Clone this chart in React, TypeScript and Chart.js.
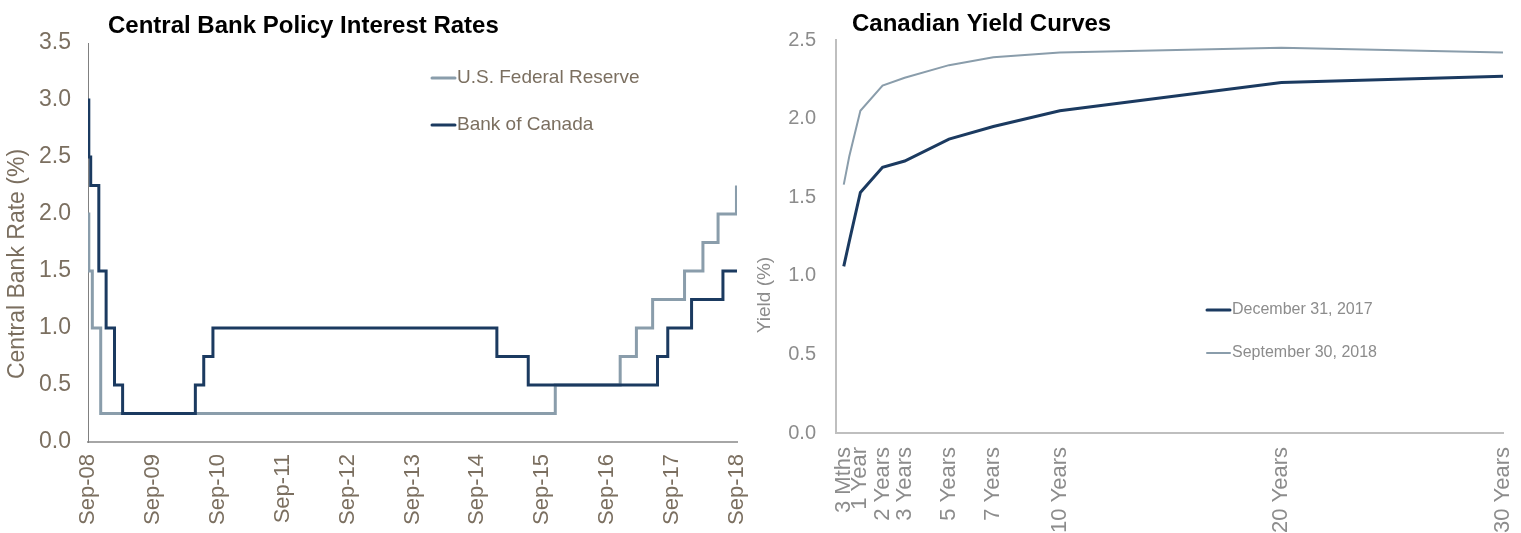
import React, { useEffect, useRef } from "react";
import { Chart, registerables } from "chart.js";

Chart.register(...registerables);

const SANS = "'Liberation Sans', Arial, Helvetica, sans-serif";
Chart.defaults.font.family = SANS;

const NAVY = "#1b3a60";
const SLATE = "#8a9dab";
const LEFT_TEXT = "#7b6f60";
const RIGHT_TEXT = "#8c8c8c";

// ---------- Left chart: Central Bank Policy Interest Rates ----------
const rateAxisMonths = [0, 12, 24, 36, 48, 60, 72, 84, 96, 108, 120];
const rateAxisLabels = ["Sep-08", "Sep-09", "Sep-10", "Sep-11", "Sep-12", "Sep-13", "Sep-14", "Sep-15", "Sep-16", "Sep-17", "Sep-18"];
const rateTicks = [0, 0.5, 1, 1.5, 2, 2.5, 3, 3.5];

// months after Sep-08 at which each rate took effect
const fedMonths = [0, 0.15, 0.8, 2.35, 86.4, 98.4, 101.4, 104.4, 110.3, 113.7, 116.5, 119.9];
const fedRates = [2.0, 1.5, 1.0, 0.25, 0.5, 0.75, 1.0, 1.25, 1.5, 1.75, 2.0, 2.25];
const bocMonths = [0, 0.15, 0.5, 2.0, 3.35, 4.9, 6.4, 19.85, 21.4, 23.1, 75.6, 81.4, 105.3, 107.2, 111.6, 117.4, 120];
const bocRates = [3.0, 2.5, 2.25, 1.5, 1.0, 0.5, 0.25, 0.5, 0.75, 1.0, 0.75, 0.5, 0.75, 1.0, 1.25, 1.5, 1.5];

// ---------- Right chart: Canadian Yield Curves ----------
const tenorYears = [0.25, 0.5, 1, 2, 3, 5, 7, 10, 20, 30];
const dec2017 = [1.06, 1.22, 1.53, 1.69, 1.73, 1.87, 1.95, 2.05, 2.23, 2.27];
const sep2018 = [1.58, 1.76, 2.05, 2.21, 2.26, 2.34, 2.39, 2.42, 2.45, 2.42];
const tenorTickValues = [0.25, 1, 2, 3, 5, 7, 10, 20, 30];
const tenorTickLabels = ["3 Mths", "1 Year", "2 Years", "3 Years", "5 Years", "7 Years", "10 Years", "20 Years", "30 Years"];
const yieldTicks = [0, 0.5, 1, 1.5, 2, 2.5];

const overlayPlugin = {
  id: "overlay",
  afterDraw(chart: any, _args: any, opts: any) {
    const ctx = chart.ctx as CanvasRenderingContext2D;
    (opts.texts || []).forEach((t: any) => {
      ctx.save();
      ctx.translate(t.x, t.y);
      if (t.rotate) ctx.rotate(t.rotate);
      ctx.font = t.font;
      ctx.fillStyle = t.color;
      ctx.textAlign = t.align || "left";
      ctx.textBaseline = "middle";
      ctx.fillText(t.text, 0, 0);
      ctx.restore();
    });
    (opts.legend || []).forEach((l: any) => {
      const ds = chart.data.datasets[l.dataset];
      ctx.save();
      ctx.strokeStyle = ds.borderColor;
      ctx.lineWidth = ds.borderWidth;
      ctx.lineCap = "round";
      ctx.beginPath();
      ctx.moveTo(l.x, l.y);
      ctx.lineTo(l.x + l.lineLength, l.y);
      ctx.stroke();
      ctx.font = l.font;
      ctx.fillStyle = l.color;
      ctx.textAlign = "left";
      ctx.textBaseline = "middle";
      ctx.fillText(ds.label, l.x + l.lineLength + 2, l.y);
      ctx.restore();
    });
  },
};

const noScalePadding = (s: any) => {
  s.paddingLeft = 0;
  s.paddingRight = 0;
  s.paddingTop = 0;
  s.paddingBottom = 0;
};

function buildLeft(canvas: HTMLCanvasElement) {
  return new Chart(canvas, {
    type: "line",
    data: {
      datasets: [
        {
          label: "U.S. Federal Reserve",
          data: fedMonths.map((m, i) => ({ x: m, y: fedRates[i] })),
          borderColor: SLATE,
          borderWidth: 3,
          stepped: true,
          pointRadius: 0,
          fill: false,
          order: 2,
          borderJoinStyle: "miter",
        },
        {
          label: "Bank of Canada",
          data: bocMonths.map((m, i) => ({ x: m, y: bocRates[i] })),
          borderColor: NAVY,
          borderWidth: 3,
          stepped: true,
          pointRadius: 0,
          fill: false,
          order: 1,
          borderJoinStyle: "miter",
        },
      ],
    } as any,
    options: {
      animation: false,
      responsive: false,
      maintainAspectRatio: false,
      layout: { padding: { top: 43, right: 13, left: 0, bottom: 0 } },
      plugins: {
        legend: { display: false },
        tooltip: { enabled: false },
        title: { display: false },
        overlay: {
          texts: [
            { text: "Central Bank Policy Interest Rates", x: 108, y: 26, font: `bold 24px ${SANS}`, color: "#000000" },
            { text: "Central Bank Rate (%)", x: 18, y: 264, font: `23px ${SANS}`, color: LEFT_TEXT, rotate: -Math.PI / 2, align: "center" },
          ],
          legend: [
            { dataset: 0, x: 432, y: 78, lineLength: 23, font: `19px ${SANS}`, color: LEFT_TEXT },
            { dataset: 1, x: 432, y: 125, lineLength: 23, font: `19px ${SANS}`, color: LEFT_TEXT },
          ],
        },
      } as any,
      scales: {
        x: {
          type: "linear",
          min: 0,
          max: 120,
          afterBuildTicks: (s: any) => {
            s.ticks = rateAxisMonths.map((v) => ({ value: v }));
          },
          afterFit: (s: any) => {
            s.height = 91;
            noScalePadding(s);
          },
          ticks: {
            autoSkip: false,
            minRotation: 90,
            maxRotation: 90,
            padding: 12,
            color: LEFT_TEXT,
            font: { size: 22 },
            callback: (_v: any, i: number) => rateAxisLabels[i],
          },
          grid: { display: false, drawTicks: false },
          border: { color: "#a6a6a6", width: 2 },
        },
        y: {
          type: "linear",
          min: 0,
          max: 3.5,
          afterBuildTicks: (s: any) => {
            s.ticks = rateTicks.map((v) => ({ value: v }));
          },
          afterFit: (s: any) => {
            s.width = 88;
            noScalePadding(s);
          },
          ticks: {
            padding: 17,
            color: LEFT_TEXT,
            font: { size: 23 },
            callback: (v: any) => Number(v).toFixed(1),
          },
          grid: { display: false, drawTicks: false },
          border: { color: "#808080", width: 1 },
        },
      },
    } as any,
    plugins: [overlayPlugin as any],
  });
}

function buildRight(canvas: HTMLCanvasElement) {
  return new Chart(canvas, {
    type: "line",
    data: {
      datasets: [
        {
          label: "December 31, 2017",
          data: tenorYears.map((t, i) => ({ x: t, y: dec2017[i] })),
          borderColor: NAVY,
          borderWidth: 3,
          pointRadius: 0,
          fill: false,
          tension: 0,
        },
        {
          label: "September 30, 2018",
          data: tenorYears.map((t, i) => ({ x: t, y: sep2018[i] })),
          borderColor: SLATE,
          borderWidth: 2,
          pointRadius: 0,
          fill: false,
          tension: 0,
        },
      ],
    } as any,
    options: {
      animation: false,
      responsive: false,
      maintainAspectRatio: false,
      layout: { padding: { top: 40, right: 18, left: 0, bottom: 0 } },
      plugins: {
        legend: { display: false },
        tooltip: { enabled: false },
        title: { display: false },
        overlay: {
          texts: [
            { text: "Canadian Yield Curves", x: 102, y: 24, font: `bold 24px ${SANS}`, color: "#000000" },
            { text: "Yield (%)", x: 15, y: 295, font: `19px ${SANS}`, color: RIGHT_TEXT, rotate: -Math.PI / 2, align: "center" },
          ],
          legend: [
            { dataset: 0, x: 457, y: 310, lineLength: 23, font: `16px ${SANS}`, color: RIGHT_TEXT },
            { dataset: 1, x: 457, y: 353, lineLength: 23, font: `16px ${SANS}`, color: RIGHT_TEXT },
          ],
        },
      } as any,
      scales: {
        x: {
          type: "linear",
          min: -0.1,
          max: 30,
          afterBuildTicks: (s: any) => {
            s.ticks = tenorTickValues.map((v) => ({ value: v }));
          },
          afterFit: (s: any) => {
            s.height = 100;
            noScalePadding(s);
          },
          ticks: {
            autoSkip: false,
            minRotation: 90,
            maxRotation: 90,
            padding: 14,
            color: RIGHT_TEXT,
            font: { size: 22 },
            callback: (_v: any, i: number) => tenorTickLabels[i],
          },
          grid: { display: false, drawTicks: false },
          border: { color: "#bfbfbf", width: 2 },
        },
        y: {
          type: "linear",
          min: 0,
          max: 2.5,
          afterBuildTicks: (s: any) => {
            s.ticks = yieldTicks.map((v) => ({ value: v }));
          },
          afterFit: (s: any) => {
            s.width = 86;
            noScalePadding(s);
          },
          ticks: {
            padding: 20,
            color: RIGHT_TEXT,
            font: { size: 20 },
            callback: (v: any) => Number(v).toFixed(1),
          },
          grid: { display: false, drawTicks: false },
          border: { color: "#bfbfbf", width: 2 },
        },
      },
    } as any,
    plugins: [overlayPlugin as any],
  });
}

export default function App() {
  const leftRef = useRef<HTMLCanvasElement | null>(null);
  const rightRef = useRef<HTMLCanvasElement | null>(null);

  useEffect(() => {
    const left = leftRef.current ? buildLeft(leftRef.current) : null;
    const right = rightRef.current ? buildRight(rightRef.current) : null;
    return () => {
      left?.destroy();
      right?.destroy();
    };
  }, []);

  return (
    <div style={{ position: "fixed", left: 0, top: 0, width: 1521, height: 533, background: "#ffffff", overflow: "hidden" }}>
      <canvas ref={leftRef} width={750} height={533} style={{ position: "absolute", left: 0, top: 0, width: 750, height: 533 }} />
      <canvas ref={rightRef} width={771} height={533} style={{ position: "absolute", left: 750, top: 0, width: 771, height: 533 }} />
    </div>
  );
}
